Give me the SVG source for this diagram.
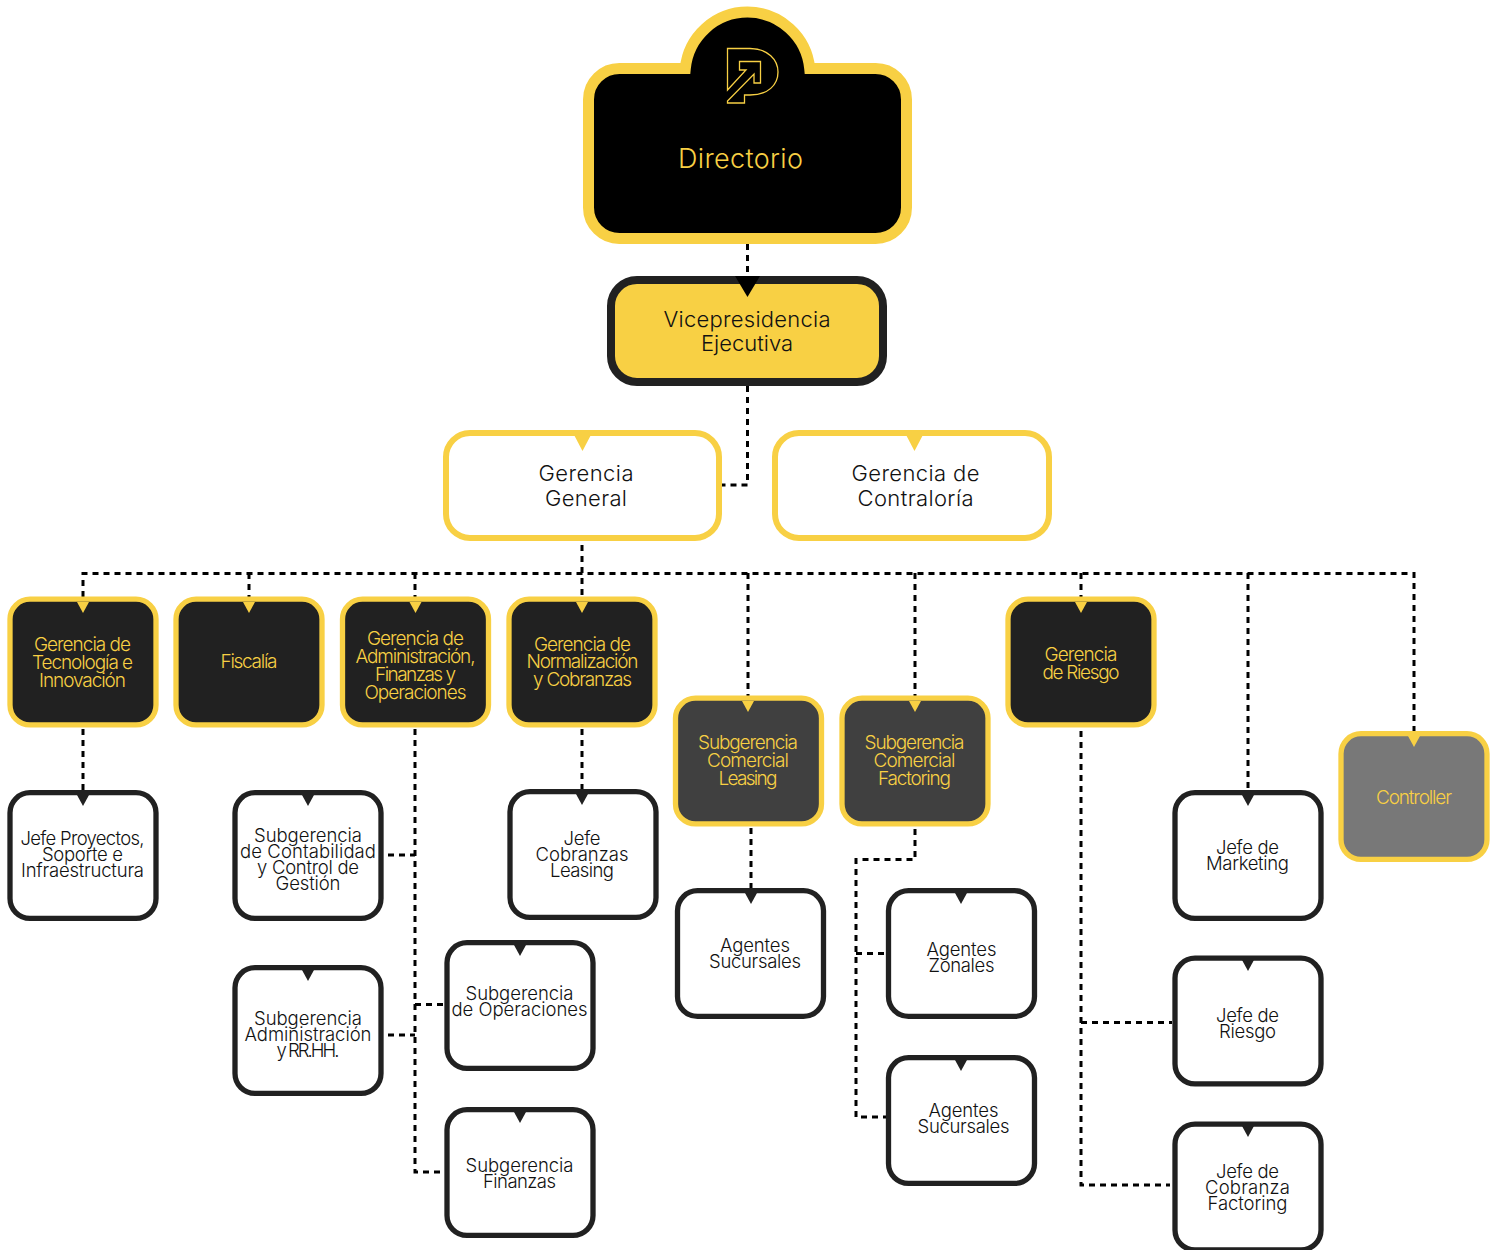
<svg xmlns="http://www.w3.org/2000/svg" width="1495" height="1250" viewBox="0 0 1495 1250">
<style>
text{font-family:"Inter","Liberation Sans",sans-serif;font-weight:300;text-anchor:middle}
.d rect{fill:#212121;stroke:#f8d044}
.s rect{fill:#404040;stroke:#f8d044}
.c rect{fill:#787878;stroke:#f8d044}
.w rect{fill:#fff;stroke:#212121}
.d rect,.s rect,.c rect,.w rect{stroke-width:5.300px;width:146px;height:125.700px;transform:translate(-.5px,-.3px)}
.g rect{fill:#fff;stroke:#f8d044;stroke-width:6}
.d text,.s text,.c text{fill:#f8d044;font-size:19px}
.w text{fill:#111;font-size:18.500px}
.g text{fill:#111;font-size:22px}
.yt{fill:#f8d044}.dt{fill:#212121}
#conn path{fill:none;stroke:#000;stroke-width:3;stroke-dasharray:6 5}
</style>
<defs><path id="t" d="M-6,0H6L0,11Z"/></defs>
<g id="conn">
<path d="M747.5,244V285"/>
<path d="M747.5,386V485H722"/>
<path d="M582,545V597"/>
<path d="M83,597V573.500H1414V731"/>
<path d="M249,573V597"/>
<path d="M415,573V597"/>
<path d="M748,573V696"/>
<path d="M915,573V696"/>
<path d="M1081,573V597"/>
<path d="M1248,573V790"/>
<path d="M83,729V790"/>
<path d="M415,729V1172H443"/>
<path d="M388,855H415"/>
<path d="M388,1035H415"/>
<path d="M415,1004.500H445"/>
<path d="M582,729V790"/>
<path d="M751,828V888"/>
<path d="M915,829V859.500H856V1117H887"/>
<path d="M856,953.500H887"/>
<path d="M1081,731V1185H1170"/>
<path d="M1081,1022.500H1172"/>
</g>
<g id="directorio">
<path d="M620,68.500H685.300A62.500,62.500 0 0 1 809.700,68.500H875A31,31 0 0 1 906.500,99.500V207.500A31,31 0 0 1 875,238.500H620A31,31 0 0 1 588.500,207.500V99.500A31,31 0 0 1 620,68.500Z" fill="#000" stroke="#f8d044" stroke-width="11"/>
<path d="M727.500,48.500H750C768,48.500 778,60 778,72C778,85 768,95 750,95H744.500V103H727.500V101L754,74V83H760.500V61.500H739.500V70H746L727.500,90Z" fill="none" stroke="#f8d044" stroke-width="1.300"/>
<text x="740.500" y="168" font-size="27" fill="#f8d044" textLength="125">Directorio</text>
</g>
<g id="vicepresidencia">
<rect x="611" y="280" width="272" height="102" rx="26" fill="#f8d044" stroke="#212121" stroke-width="8"/>
<text x="747" y="327" font-size="22" fill="#111" textLength="167">Vicepresidencia</text>
<text x="747" y="351" font-size="22" fill="#111" textLength="92">Ejecutiva</text>
<use href="#t" x="0" y="0" transform="translate(747.500,276) scale(2.080,1.900)" fill="#000"/>
</g>
<g id="gerencia-general" class="g"><rect x="446" y="433" width="273" height="105" rx="24"/>
<text x="586" y="481" textLength="95">Gerencia</text><text x="586" y="506" textLength="82">General</text>
<use href="#t" class="yt" transform="translate(582.500,435) scale(1.400,1.450)"/></g>
<g id="gerencia-contraloria" class="g"><rect x="775" y="433" width="274" height="105" rx="24"/>
<text x="915.500" y="481" textLength="128">Gerencia de</text><text x="915.500" y="506" textLength="116">Contraloría</text>
<use href="#t" class="yt" transform="translate(914.500,435) scale(1.400,1.450)"/></g>

<g id="gerencia-tecnologia" class="d"><rect x="10.500" y="599.500" width="145" height="125" rx="20"/>
<text x="82.500" y="651" textLength="97">Gerencia de</text><text x="82.500" y="669" textLength="101">Tecnología e</text><text x="82.500" y="687" textLength="87">Innovación</text>
<use href="#t" class="yt" x="83" y="602"/></g>
<g id="fiscalia" class="d"><rect x="176.500" y="599.500" width="145" height="125" rx="20"/>
<text x="249" y="668" textLength="57">Fiscalía</text>
<use href="#t" class="yt" x="249" y="602"/></g>
<g id="gerencia-administracion" class="d"><rect x="343" y="599.500" width="145" height="125" rx="20"/>
<text x="415.500" y="645" textLength="97">Gerencia de</text><text x="415.500" y="663" textLength="120">Administración,</text><text x="415.500" y="681" textLength="81">Finanzas y</text><text x="415.500" y="699" textLength="102">Operaciones</text>
<use href="#t" class="yt" x="415.500" y="602"/></g>
<g id="gerencia-normalizacion" class="d"><rect x="509.500" y="599.500" width="145" height="125" rx="20"/>
<text x="582.500" y="651" textLength="97">Gerencia de</text><text x="582.500" y="668" textLength="112">Normalización</text><text x="582.500" y="686" textLength="99">y Cobranzas</text>
<use href="#t" class="yt" x="582" y="602"/></g>
<g id="subgerencia-leasing" class="s"><rect x="676" y="698.500" width="145" height="125" rx="20"/>
<text x="748" y="749" textLength="100">Subgerencia</text><text x="748" y="767" textLength="82">Comercial</text><text x="748" y="785" textLength="59">Leasing</text>
<use href="#t" class="yt" x="748" y="701"/></g>
<g id="subgerencia-factoring" class="s"><rect x="842.500" y="698.500" width="145" height="125" rx="20"/>
<text x="914.500" y="749" textLength="100">Subgerencia</text><text x="914.500" y="767" textLength="82">Comercial</text><text x="914.500" y="785" textLength="73">Factoring</text>
<use href="#t" class="yt" x="915" y="701"/></g>
<g id="gerencia-riesgo" class="d"><rect x="1008.500" y="599.500" width="145" height="125" rx="20"/>
<text x="1081" y="661" textLength="73">Gerencia</text><text x="1081" y="679" textLength="77">de Riesgo</text>
<use href="#t" class="yt" x="1081" y="602"/></g>
<g id="controller" class="c"><rect x="1341.500" y="734" width="145" height="125" rx="20"/>
<text x="1414" y="804" textLength="76">Controller</text>
<use href="#t" class="yt" x="1414" y="736"/></g>

<g id="jefe-proyectos" class="w"><rect x="10.500" y="793" width="145" height="125" rx="20"/>
<text x="82.500" y="845" textLength="124">Jefe Proyectos,</text><text x="82.500" y="861" textLength="81">Soporte e</text><text x="82.500" y="877" textLength="123">Infraestructura</text>
<use href="#t" class="dt" x="83" y="795"/></g>
<g id="subgerencia-contabilidad" class="w"><rect x="235.500" y="793" width="145" height="125" rx="20"/>
<text x="308" y="842" textLength="108">Subgerencia</text><text x="308" y="858" textLength="136">de Contabilidad</text><text x="308" y="874" textLength="102">y Control de</text><text x="308" y="890" textLength="65">Gestión</text>
<use href="#t" class="dt" x="308" y="795"/></g>
<g id="jefe-cobranzas" class="w"><rect x="510.500" y="792" width="145" height="125" rx="20"/>
<text x="582" y="845" textLength="37">Jefe</text><text x="582" y="861" textLength="93">Cobranzas</text><text x="582" y="877" textLength="64">Leasing</text>
<use href="#t" class="dt" x="582" y="794"/></g>
<g id="jefe-marketing" class="w"><rect x="1175.500" y="793" width="145" height="125" rx="20"/>
<text x="1247.500" y="854" textLength="63">Jefe de</text><text x="1247.500" y="870" textLength="83">Marketing</text>
<use href="#t" class="dt" x="1248" y="795"/></g>
<g id="agentes-sucursales-leasing" class="w"><rect x="678" y="891" width="145" height="125" rx="20"/>
<text x="755" y="952" textLength="70">Agentes</text><text x="755" y="968" textLength="92">Sucursales</text>
<use href="#t" class="dt" x="751" y="893"/></g>
<g id="agentes-zonales" class="w"><rect x="889" y="891" width="145" height="125" rx="20"/>
<text x="961.500" y="955.500" textLength="70">Agentes</text><text x="961.500" y="971.500" textLength="66">Zonales</text>
<use href="#t" class="dt" x="961" y="893"/></g>
<g id="agentes-sucursales-factoring" class="w"><rect x="889" y="1058" width="145" height="125" rx="20"/>
<text x="963.500" y="1117" textLength="70">Agentes</text><text x="963.500" y="1133" textLength="92">Sucursales</text>
<use href="#t" class="dt" x="961" y="1060"/></g>
<g id="subgerencia-administracion" class="w"><rect x="235.500" y="968" width="145" height="125" rx="20"/>
<text x="308" y="1025" textLength="108">Subgerencia</text><text x="308" y="1041" textLength="127">Administración</text><text x="308" y="1057" textLength="63">y RR.HH.</text>
<use href="#t" class="dt" x="308" y="970"/></g>
<g id="subgerencia-operaciones" class="w"><rect x="447.500" y="943" width="145" height="125" rx="20"/>
<text x="519.500" y="1000" textLength="108">Subgerencia</text><text x="519.500" y="1016" textLength="136">de Operaciones</text>
<use href="#t" class="dt" x="520" y="945"/></g>
<g id="subgerencia-finanzas" class="w"><rect x="447.500" y="1110" width="145" height="125" rx="20"/>
<text x="519.500" y="1172" textLength="108">Subgerencia</text><text x="519.500" y="1188" textLength="73">Finanzas</text>
<use href="#t" class="dt" x="520" y="1112"/></g>
<g id="jefe-riesgo" class="w"><rect x="1175.500" y="958.500" width="145" height="125" rx="20"/>
<text x="1247.500" y="1022" textLength="63">Jefe de</text><text x="1247.500" y="1038" textLength="57">Riesgo</text>
<use href="#t" class="dt" x="1248" y="960"/></g>
<g id="jefe-cobranza-factoring" class="w"><rect x="1175.500" y="1124.500" width="145" height="125" rx="20"/>
<text x="1247.500" y="1178" textLength="63">Jefe de</text><text x="1247.500" y="1194" textLength="85">Cobranza</text><text x="1247.500" y="1210" textLength="80">Factoring</text>
<use href="#t" class="dt" x="1248" y="1126"/></g>
</svg>
